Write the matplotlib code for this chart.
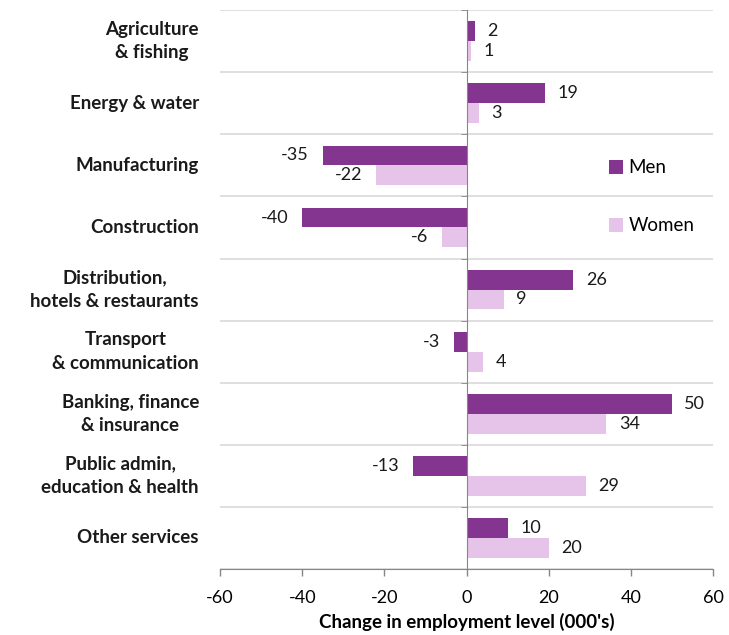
import numpy as np
import matplotlib
matplotlib.use("Agg")
import matplotlib.pyplot as plt

categories = ["Agriculture\n& fishing", "Energy & water", "Manufacturing", "Construction",
              "Distribution,\nhotels & restaurants", "Transport\n& communication",
              "Banking, finance\n& insurance", "Public admin,\neducation & health", "Other services"]
men = [2, 19, -35, -40, 26, -3, 50, -13, 10]
women = [1, 3, -22, -6, 9, 4, 34, 29, 20]
xticks = [-60, -40, -20, 0, 20, 40, 60]

men_col = "#84358f"
women_col = "#e6c3e8"
grid_col = "#d9d9d9"
axis_col = "#868686"

plt.rcParams['font.family'] = ['Lato', 'DejaVu Sans']

fig = plt.figure(figsize=(7.29, 6.35), dpi=100)
ax = fig.add_axes([0.302, 0.104, 0.676, 0.880])

y = np.arange(len(categories))
h = 0.32
ax.barh(y - h/2, men, height=h, color=men_col, label="Men", zorder=3)
ax.barh(y + h/2, women, height=h, color=women_col, label="Women", zorder=3)

# value labels
for yy, vals in ((y - h/2, men), (y + h/2, women)):
    for yi, v in zip(yy, vals):
        if v >= 0:
            ax.annotate(str(v), (v, yi), xytext=(9, 0), textcoords="offset points",
                        ha="left", va="center", fontsize=13, color="#1a1a1a")
        else:
            ax.annotate(str(v), (v, yi), xytext=(-10, 0), textcoords="offset points",
                        ha="right", va="center", fontsize=13, color="#1a1a1a")

ax.set_xlim(-60, 60)
ax.set_ylim(len(categories) - 0.5, -0.5)
ax.set_xticks(xticks)
ax.set_xticklabels([str(t) for t in xticks], fontsize=13)

# category boundaries as gridlines
ax.set_yticks([])
ax.set_yticks(np.arange(len(categories) + 1) - 0.5, minor=True)
ax.grid(True, axis="y", which="minor", color=grid_col, linewidth=1.2, zorder=0)
ax.tick_params(axis="y", which="minor", length=4, color=axis_col, direction="out")
ax.tick_params(axis="x", length=5, color=axis_col, width=1, pad=10)

for s in ["top", "right"]:
    ax.spines[s].set_visible(False)
ax.spines["left"].set_position(("data", 0))
ax.spines["left"].set_color(axis_col)
ax.spines["bottom"].set_color(axis_col)
ax.spines["left"].set_zorder(4)

for yi, lab in zip(y, categories):
    ax.text(-0.043, yi, lab, transform=ax.get_yaxis_transform(), ha="right", va="center",
            multialignment="center", fontsize=13.5, fontweight="bold", color="#1a1a1a",
            linespacing=1.45)

ax.set_xlabel("Change in employment level (000's)", fontsize=13.5, fontweight="bold",
              labelpad=5)

ax.legend(loc="center left", bbox_to_anchor=(0.812, 0.69), bbox_transform=fig.transFigure,
          frameon=False, fontsize=13.5, handlelength=0.75, handleheight=0.75,
          handletextpad=0.3, labelspacing=2.2)

fig.savefig("out.png", dpi=100)
